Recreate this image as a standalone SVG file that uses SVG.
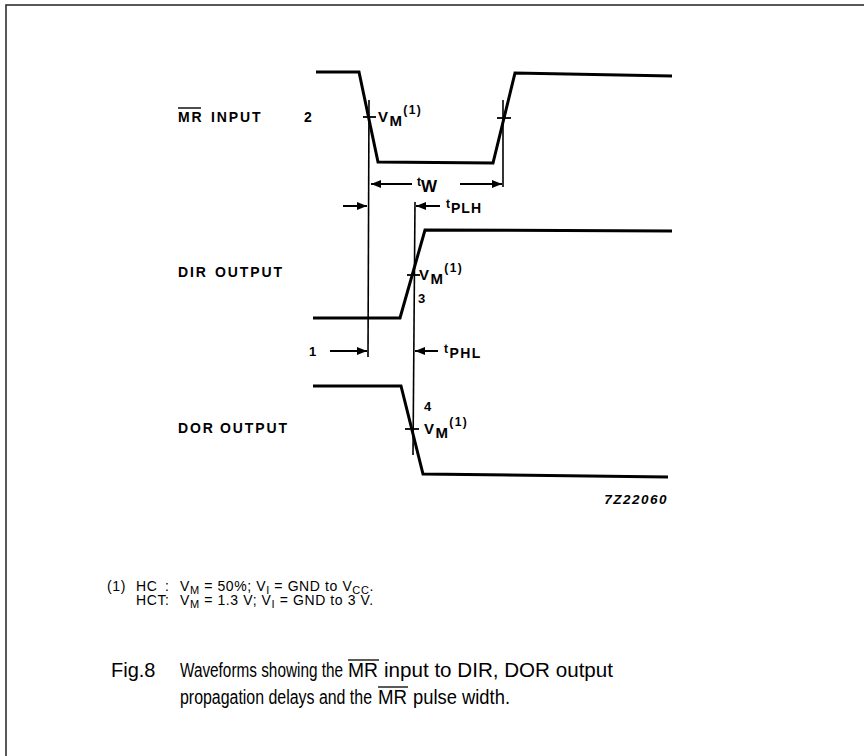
<svg xmlns="http://www.w3.org/2000/svg" width="864" height="756" viewBox="0 0 864 756">
<defs>
<marker id="ah" viewBox="0 0 10 8" refX="10" refY="4" markerWidth="10" markerHeight="8" markerUnits="userSpaceOnUse" orient="auto"><path d="M0,0 L10,4 L0,8 Z" fill="#000"/></marker>
</defs>
<style>
.wave{fill:none;stroke:#000;stroke-width:3;stroke-linejoin:miter}
.ref{fill:none;stroke:#000;stroke-width:1.6}
.arr{fill:none;stroke:#000;stroke-width:2;marker-end:url(#ah)}
.tick{stroke:#000;stroke-width:1.8}
.lbl{font-family:"Liberation Sans",Arial,sans-serif;font-weight:bold;font-size:14px;letter-spacing:1.9px;fill:#000}
.sm{font-family:"Liberation Sans",Arial,sans-serif;font-weight:bold;fill:#000}
.vm{font-family:"Liberation Sans",Arial,sans-serif;font-weight:bold;font-size:15px;letter-spacing:1.4px;fill:#000}
.fn{font-family:"Liberation Sans",Arial,sans-serif;font-size:14px;letter-spacing:0.6px;fill:#000}
.cap{font-family:"Liberation Sans",Arial,sans-serif;font-size:20px;fill:#000}
</style>
<rect x="6" y="5" width="870" height="770" fill="#fff" stroke="#222" stroke-width="1.5"/>

<g id="mr-input">
<path class="wave" d="M316,72 L359,72 L378,162 L493,163 L515,73 L672,76"/>
<line class="tick" x1="363" y1="117" x2="376" y2="117"/>
<line class="tick" x1="497" y1="118" x2="511" y2="118"/>
<text class="lbl" x="178" y="122">MR<tspan x="211">INPUT</tspan></text>
<line x1="178" y1="108" x2="201" y2="108" stroke="#000" stroke-width="1.4"/>
<text class="sm" x="304" y="122" font-size="14">2</text>
<text class="vm" x="378" y="122">V<tspan dy="4">M</tspan><tspan font-size="12" dy="-12">(1)</tspan></text>
</g>

<g id="dir-output">
<path class="wave" d="M313,318 L400,318 L425,230 L672,231"/>
<line class="tick" x1="407" y1="275" x2="420" y2="275"/>
<text class="lbl" x="178" y="277">DIR<tspan x="215">OUTPUT</tspan></text>
<text class="vm" x="419" y="280">V<tspan dy="4">M</tspan><tspan font-size="12" dy="-12">(1)</tspan></text>
<text class="sm" x="418" y="303" font-size="13">3</text>
</g>

<g id="dor-output">
<path class="wave" d="M313,386 L401,386 L423,474 L668,477"/>
<line class="tick" x1="405" y1="429" x2="419" y2="429"/>
<text class="lbl" x="178" y="433">DOR<tspan x="220">OUTPUT</tspan></text>
<text class="sm" x="424" y="411" font-size="13">4</text>
<text class="vm" x="424" y="434">V<tspan dy="4">M</tspan><tspan font-size="12" dy="-12">(1)</tspan></text>
</g>

<g id="connectors">
<line class="ref" x1="369" y1="100" x2="368" y2="357"/>
<line class="ref" x1="503" y1="100" x2="503" y2="187"/>
<line class="ref" x1="415" y1="202" x2="413" y2="455"/>
<line class="arr" x1="412" y1="184" x2="371" y2="184"/>
<line class="arr" x1="460" y1="184" x2="502" y2="184"/>
<line class="arr" x1="343" y1="206" x2="367" y2="206"/>
<line class="arr" x1="440" y1="206" x2="416" y2="206"/>
<line class="arr" x1="330" y1="351" x2="367" y2="351"/>
<line class="arr" x1="438" y1="351" x2="415" y2="351"/>
</g>

<g id="timing-labels">
<text class="sm" x="417" y="186" font-size="12">t<tspan font-size="17" dy="6">W</tspan></text>
<text class="sm" x="446" y="208" font-size="12" letter-spacing="1">t<tspan font-size="14" dy="5">PLH</tspan></text>
<text class="sm" x="309" y="356" font-size="13">1</text>
<text class="sm" x="444" y="353" font-size="12" letter-spacing="1.4">t<tspan font-size="14" dy="5">PHL</tspan></text>
<text class="sm" x="668" y="504" font-size="13.5" font-style="italic" text-anchor="end" letter-spacing="1.5">7Z22060</text>
</g>

<g id="footnote">
<text class="fn" x="107" y="591">(1)</text>
<text class="fn" x="136" y="591">HC</text>
<text class="fn" x="165" y="591">:</text>
<text class="fn" x="180" y="591">V<tspan font-size="11" dy="3">M</tspan><tspan dy="-3"> = 50%; V</tspan><tspan font-size="11" dy="3">I</tspan><tspan dy="-3"> = GND to V</tspan><tspan font-size="11" dy="3">CC</tspan><tspan dy="-3">.</tspan></text>
<text class="fn" x="136" y="605">HCT:</text>
<text class="fn" x="180" y="605">V<tspan font-size="11" dy="3">M</tspan><tspan dy="-3"> = 1.3 V; V</tspan><tspan font-size="11" dy="3">I</tspan><tspan dy="-3"> = GND to 3 V.</tspan></text>
</g>

<g id="caption">
<text class="cap" x="111" y="677">Fig.8</text>
<text class="cap" x="180" y="677" textLength="163" lengthAdjust="spacingAndGlyphs">Waveforms showing the</text>
<text class="cap" x="348" y="677" textLength="30" lengthAdjust="spacingAndGlyphs">MR</text>
<text class="cap" x="384" y="677" textLength="229" lengthAdjust="spacingAndGlyphs">input to DIR, DOR output</text>
<text class="cap" x="180" y="704" textLength="192" lengthAdjust="spacingAndGlyphs">propagation delays and the</text>
<text class="cap" x="378" y="704" textLength="29" lengthAdjust="spacingAndGlyphs">MR</text>
<text class="cap" x="413" y="704" textLength="97" lengthAdjust="spacingAndGlyphs">pulse width.</text>
<line x1="348" y1="660" x2="379" y2="660" stroke="#000" stroke-width="1.3"/>
<line x1="378" y1="687" x2="408" y2="687" stroke="#000" stroke-width="1.3"/>
</g>
</svg>
